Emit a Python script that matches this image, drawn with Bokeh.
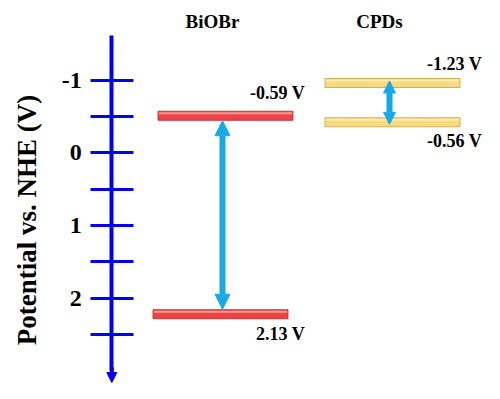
import math
from bokeh.plotting import figure
from bokeh.models import Range1d, LinearAxis, FixedTicker, Arrow, NormalHead, ColumnDataSource
from bokeh.core.properties import value
from bokeh.embed import file_html
from bokeh.resources import INLINE

# ---- data ----
materials = ["BiOBr", "CPDs"]
material_x = [1.0, 2.0]
cb_potential = [-0.51, -0.96]      # drawn position of the upper band edge (V vs NHE)
vb_potential = [2.22, -0.42]       # drawn position of the lower band edge (V vs NHE)
cb_labels = ["-0.59 V", "-1.23 V"]
vb_labels = ["2.13 V", "-0.56 V"]
major_ticks = [-1, 0, 1, 2]
tick_labels = ["-1", "0", "1", "2"]
minor_ticks = [-0.5, 0.5, 1.5, 2.5]
axis_title = "Potential vs. NHE (V)"

# ---- layout / style ----
W, H = 484, 383
Y_TOP, Y_BOT = -2.095, 3.173
X_START, X_END = -0.3473, 2.5509
AXIS_X = 0.3194
PXY = H / (Y_BOT - Y_TOP)
PXX = W / (X_END - X_START)
BAR_W = 0.808
BLUE = "#0000F2"
SKY = "#16A9E6"
FONT = "Liberation Serif"

bar_fill = ["#EC4444", "#F7DA7E"]
bar_line = ["#C23838", "#CFAE55"]
bar_hi = ["#F79A9A", "#FBEBB0"]
vb_shift_px = [-5, 0]
label_dx = [12, 22]
cb_dy = [-23, -19]
vb_dy = [20, 19]
arrow_gap = [5, -2]
arrow_head = [15, 12]

p = figure(width=W, height=H,
           x_range=Range1d(X_START, X_END), y_range=Range1d(Y_BOT, Y_TOP),
           x_axis_type=None, y_axis_type=None,
           output_backend="svg", toolbar_location=None,
           min_border_left=0, min_border_right=0, min_border_top=0, min_border_bottom=0,
           outline_line_color=None, background_fill_color="white", border_fill_color="white")

ax = LinearAxis(ticker=FixedTicker(ticks=major_ticks, minor_ticks=minor_ticks),
                bounds=(-1.613, 3.0), fixed_location=AXIS_X)
ax.major_label_overrides = dict(zip(major_ticks, tick_labels))
ax.axis_line_color = BLUE
ax.axis_line_width = 4
ax.major_tick_line_color = BLUE
ax.major_tick_line_width = 3
ax.major_tick_in = 22
ax.major_tick_out = 21
ax.minor_tick_line_color = BLUE
ax.minor_tick_line_width = 3
ax.minor_tick_in = 22
ax.minor_tick_out = 21
ax.major_label_text_font = FONT
ax.major_label_text_font_style = "bold"
ax.major_label_text_font_size = "24px"
ax.major_label_text_color = "black"
ax.major_label_standoff = 9
p.add_layout(ax, "left")

# axis title (rotated text left of the axis)
p.text(x=[AXIS_X], y=[0.924], text=[axis_title], x_offset=-85, angle=math.pi / 2,
       text_align="center", text_baseline="middle", text_font=value(FONT),
       text_font_style="bold", text_font_size="27px", text_color="black")

# arrow head at bottom of potential axis
p.add_layout(Arrow(x_start=AXIS_X, y_start=2.95, x_end=AXIS_X, y_end=3.16,
                   line_color=BLUE, line_width=4,
                   end=NormalHead(size=10, fill_color=BLUE, line_color=BLUE), start=None))

bar_right = [x + BAR_W / 2 for x in material_x]
src = ColumnDataSource(dict(
    x=material_x, cb=cb_potential, vb=vb_potential,
    xv=[x + s / PXX for x, s in zip(material_x, vb_shift_px)],
    cb_hi=[c - 2.5 / PXY for c in cb_potential], vb_hi=[v - 2.5 / PXY for v in vb_potential],
    xr=bar_right, cbl=cb_labels, vbl=vb_labels,
    fill=bar_fill, line=bar_line, hi=bar_hi,
    dx=label_dx, cdy=cb_dy, vdy=vb_dy,
))

for xcol, ycol, hicol in (("x", "cb", "cb_hi"), ("xv", "vb", "vb_hi")):
    p.rect(x=xcol, y=ycol, width=BAR_W, height=9, height_units="screen", source=src,
           fill_color="fill", line_color="line", line_width=1)
    p.rect(x=xcol, y=hicol, width=BAR_W - 0.01, height=2, height_units="screen", source=src,
           fill_color="hi", line_color=None)

p.text(x="xr", y="cb", text="cbl", x_offset="dx", y_offset="cdy", source=src,
       text_align="right", text_baseline="middle", text_font=value(FONT),
       text_font_style="bold", text_font_size="18px", text_color="black")
p.text(x="xr", y="vb", text="vbl", x_offset="dx", y_offset="vdy", source=src,
       text_align="right", text_baseline="middle", text_font=value(FONT),
       text_font_style="bold", text_font_size="18px", text_color="black")

p.text(x=material_x, y=[-1.81] * len(materials), text=materials, x_offset=-13,
       text_align="center", text_baseline="middle", text_font=value(FONT),
       text_font_style="bold", text_font_size="19px", text_color="black")

for i in range(len(materials)):
    g = arrow_gap[i] / PXY
    xa = material_x[i] - 3 / PXX
    p.add_layout(Arrow(x_start=xa, y_start=cb_potential[i] + g,
                       x_end=xa, y_end=vb_potential[i] - g,
                       line_color=SKY, line_width=6,
                       start=NormalHead(size=arrow_head[i], fill_color=SKY, line_color=SKY),
                       end=NormalHead(size=arrow_head[i], fill_color=SKY, line_color=SKY)))

open("out.html", "w").write(file_html(p, INLINE))
